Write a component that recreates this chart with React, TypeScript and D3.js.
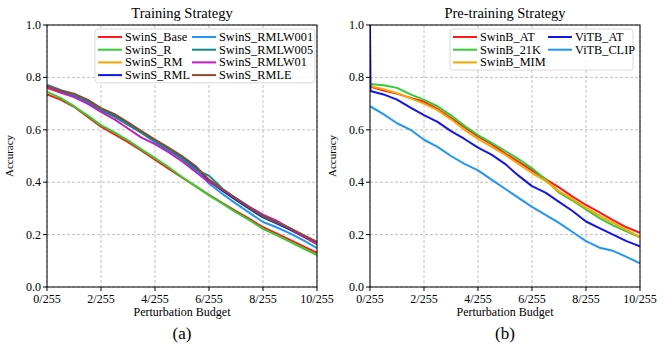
import React from 'react';
import * as d3 from 'd3';

// perturbation budget in units of 1/255
const budgets = [0, 0.5, 1, 1.5, 2, 2.5, 3, 3.5, 4, 4.5, 5, 5.5, 6, 6.5, 7, 7.5, 8, 8.5, 9, 9.5, 10];
const budgetsVit = [0, 0.02, 0.5, 1, 1.5, 2, 2.5, 3, 3.5, 4, 4.5, 5, 5.5, 6, 6.5, 7, 7.5, 8, 8.5, 9, 9.5, 10];
const xTicks = [0, 2, 4, 6, 8, 10];
const yTicks = [0, 0.2, 0.4, 0.6, 0.8, 1.0];

// (a) training strategy
const swinSBase = [0.735, 0.715, 0.688, 0.65, 0.612, 0.583, 0.553, 0.52, 0.486, 0.452, 0.418, 0.385, 0.352, 0.32, 0.29, 0.26, 0.228, 0.205, 0.18, 0.155, 0.13];
const swinSR = [0.745, 0.722, 0.69, 0.655, 0.618, 0.59, 0.56, 0.525, 0.492, 0.458, 0.42, 0.385, 0.35, 0.318, 0.285, 0.255, 0.222, 0.198, 0.172, 0.147, 0.122];
const swinSRM = [0.758, 0.742, 0.728, 0.706, 0.676, 0.652, 0.62, 0.59, 0.556, 0.526, 0.492, 0.455, 0.405, 0.368, 0.334, 0.3, 0.268, 0.244, 0.22, 0.192, 0.163];
const swinSRML = [0.765, 0.746, 0.733, 0.71, 0.679, 0.655, 0.624, 0.592, 0.558, 0.528, 0.492, 0.456, 0.405, 0.368, 0.332, 0.298, 0.266, 0.243, 0.219, 0.192, 0.165];
const swinSRMLW001 = [0.772, 0.752, 0.735, 0.708, 0.675, 0.65, 0.62, 0.588, 0.553, 0.522, 0.49, 0.45, 0.395, 0.355, 0.318, 0.283, 0.248, 0.228, 0.205, 0.178, 0.148];
const swinSRMLW005 = [0.765, 0.748, 0.73, 0.706, 0.675, 0.65, 0.62, 0.59, 0.555, 0.525, 0.49, 0.447, 0.425, 0.375, 0.338, 0.303, 0.27, 0.247, 0.224, 0.196, 0.168];
const swinSRMLW01 = [0.762, 0.742, 0.725, 0.7, 0.668, 0.64, 0.605, 0.57, 0.545, 0.515, 0.48, 0.44, 0.4, 0.372, 0.338, 0.306, 0.276, 0.253, 0.223, 0.194, 0.165];
const swinSRMLE = [0.768, 0.75, 0.738, 0.715, 0.683, 0.66, 0.628, 0.595, 0.563, 0.532, 0.5, 0.462, 0.41, 0.372, 0.338, 0.303, 0.272, 0.248, 0.225, 0.198, 0.172];

// (b) pre-training strategy
const swinBAT = [0.765, 0.75, 0.738, 0.722, 0.707, 0.68, 0.645, 0.61, 0.575, 0.545, 0.51, 0.478, 0.445, 0.412, 0.38, 0.345, 0.313, 0.285, 0.255, 0.228, 0.207];
const swinB21K = [0.775, 0.77, 0.76, 0.735, 0.714, 0.69, 0.655, 0.615, 0.58, 0.55, 0.52, 0.488, 0.453, 0.41, 0.36, 0.33, 0.296, 0.263, 0.235, 0.212, 0.19];
const swinBMIM = [0.767, 0.755, 0.74, 0.72, 0.7, 0.675, 0.64, 0.6, 0.565, 0.535, 0.505, 0.47, 0.435, 0.405, 0.365, 0.335, 0.302, 0.272, 0.245, 0.218, 0.19];
const vitBAT = [1.0, 0.748, 0.735, 0.715, 0.685, 0.656, 0.63, 0.595, 0.565, 0.532, 0.505, 0.47, 0.425, 0.385, 0.36, 0.325, 0.29, 0.25, 0.225, 0.2, 0.175, 0.155];
const vitBCLIP = [0.69, 0.66, 0.625, 0.6, 0.562, 0.535, 0.5, 0.47, 0.445, 0.41, 0.375, 0.34, 0.306, 0.275, 0.245, 0.21, 0.175, 0.15, 0.138, 0.115, 0.09];

type Series = { name: string; color: string; xs: number[]; ys: number[] };

const seriesA: Series[] = [
  { name: 'SwinS_Base', color: '#ff1a1a', xs: budgets, ys: swinSBase },
  { name: 'SwinS_R', color: '#33cc33', xs: budgets, ys: swinSR },
  { name: 'SwinS_RM', color: '#ffa500', xs: budgets, ys: swinSRM },
  { name: 'SwinS_RML', color: '#1515e6', xs: budgets, ys: swinSRML },
  { name: 'SwinS_RMLW001', color: '#2196f3', xs: budgets, ys: swinSRMLW001 },
  { name: 'SwinS_RMLW005', color: '#138a8a', xs: budgets, ys: swinSRMLW005 },
  { name: 'SwinS_RMLW01', color: '#c61ac6', xs: budgets, ys: swinSRMLW01 },
  { name: 'SwinS_RMLE', color: '#8b4a2b', xs: budgets, ys: swinSRMLE },
];

const seriesB: Series[] = [
  { name: 'SwinB_AT', color: '#ff1a1a', xs: budgets, ys: swinBAT },
  { name: 'SwinB_21K', color: '#33cc33', xs: budgets, ys: swinB21K },
  { name: 'SwinB_MIM', color: '#ffa500', xs: budgets, ys: swinBMIM },
  { name: 'ViTB_AT', color: '#1515e6', xs: budgetsVit, ys: vitBAT },
  { name: 'ViTB_CLIP', color: '#2196f3', xs: budgets, ys: vitBCLIP },
];

const FONT = '"Liberation Serif", "Times New Roman", serif';

type PanelProps = {
  left: number;
  title: string;
  label: string;
  series: Series[];
  legend: { x: number; width: number; rows: number; colGap: number };
};

const Panel = ({ left, title, label, series, legend }: PanelProps) => {
  const top = 25;
  const bottom = 287;
  const width = 270;
  const x = d3.scaleLinear().domain([0, 10]).range([left, left + width]);
  const y = d3.scaleLinear().domain([0, 1]).range([bottom, top]);
  const line = (s: Series) =>
    d3.line<number>().x((_, i) => x(s.xs[i])).y(d => y(d))(s.ys) || '';
  const cx = left + width / 2;
  const rowH = 12.7;
  const legY = 29;
  const legH = legend.rows * rowH + 3;

  return (
    <g>
      <text x={cx} y={18} textAnchor="middle" fontSize={14.5}>{title}</text>
      {xTicks.map(t => (
        <line key={'gx' + t} x1={x(t)} x2={x(t)} y1={top} y2={bottom} stroke="#b0b0b0" strokeDasharray="3,2" strokeWidth={0.8} />
      ))}
      {yTicks.map(t => (
        <line key={'gy' + t} x1={left} x2={left + width} y1={y(t)} y2={y(t)} stroke="#b0b0b0" strokeDasharray="3,2" strokeWidth={0.8} />
      ))}
      <defs>
        <clipPath id={'clip' + left}>
          <rect x={left} y={top - 1} width={width} height={bottom - top + 1} />
        </clipPath>
      </defs>
      <g clipPath={`url(#clip${left})`}>
        {series.map(s => (
          <path key={s.name} d={line(s)} fill="none" stroke={s.color} strokeWidth={2} strokeLinejoin="round" />
        ))}
      </g>
      <rect x={left} y={top} width={width} height={bottom - top} fill="none" stroke="#000" strokeWidth={1} />
      {xTicks.map(t => (
        <g key={'tx' + t}>
          <line x1={x(t)} x2={x(t)} y1={bottom} y2={bottom + 4} stroke="#000" />
          <text x={x(t)} y={bottom + 16} textAnchor="middle" fontSize={12}>{`${t}/255`}</text>
        </g>
      ))}
      {yTicks.map(t => (
        <g key={'ty' + t}>
          <line x1={left - 4} x2={left} y1={y(t)} y2={y(t)} stroke="#000" />
          <text x={left - 6} y={y(t) + 4} textAnchor="end" fontSize={12}>{t.toFixed(1)}</text>
        </g>
      ))}
      <text transform={`translate(${left - 34},${(top + bottom) / 2}) rotate(-90)`} textAnchor="middle" fontSize={11}>Accuracy</text>
      <text x={cx} y={316} textAnchor="middle" fontSize={12}>Perturbation Budget</text>
      <text x={cx} y={339} textAnchor="middle" fontSize={17}>{label}</text>

      <rect x={legend.x} y={legY} width={legend.width} height={legH} rx={3} fill="#fff" fillOpacity={0.85} stroke="#d0d0d0" strokeWidth={0.8} />
      {series.map((s, i) => {
        const col = Math.floor(i / legend.rows);
        const row = i % legend.rows;
        const lx = legend.x + 3 + col * legend.colGap;
        const ly = legY + 8 + row * rowH;
        return (
          <g key={'lg' + s.name}>
            <line x1={lx} x2={lx + 24} y1={ly} y2={ly} stroke={s.color} strokeWidth={2} />
            <text x={lx + 27} y={ly + 4} fontSize={12.3}>{s.name}</text>
          </g>
        );
      })}
    </g>
  );
};

export default function App() {
  return (
    <svg width={665} height={352} style={{ position: 'absolute', left: 0, top: 0, background: '#fff' }} fontFamily={FONT}>
      <rect width={665} height={352} fill="#fff" />
      <Panel left={47} title="Training Strategy" label="(a)" series={seriesA}
        legend={{ x: 95, width: 220, rows: 4, colGap: 94 }} />
      <Panel left={370} title="Pre-training Strategy" label="(b)" series={seriesB}
        legend={{ x: 450, width: 183, rows: 3, colGap: 95 }} />
    </svg>
  );
}
